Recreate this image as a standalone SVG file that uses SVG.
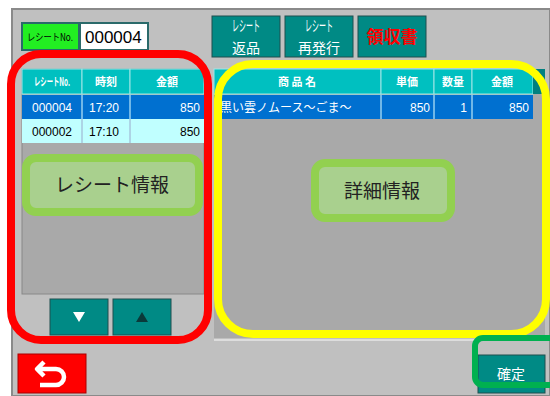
<svg xmlns="http://www.w3.org/2000/svg" width="550" height="396" viewBox="0 0 550 396">
<style>
.hdr{fill:#00c0c0;stroke:#9fe6e6;stroke-width:1}
.ht{font-family:"Noto Sans CJK JP","Liberation Sans",sans-serif;font-size:11px;font-weight:bold;fill:#fff;text-anchor:middle}
.rt{font-family:"Liberation Sans","Noto Sans CJK JP",sans-serif;font-size:12px}
.btn{fill:#008a85;stroke:#1f4f4f;stroke-width:1}
.bt{font-family:"Noto Sans CJK JP",sans-serif;font-size:14px;fill:#fff;text-anchor:middle}
.bs{font-family:"Noto Sans CJK JP",sans-serif;font-size:15px;fill:#fff;text-anchor:middle}
.lbl{fill:#a9d08e;stroke:#92d050;stroke-width:8}
.lt{font-family:"Noto Sans CJK JP",sans-serif;font-size:19px;fill:#222;text-anchor:middle}
</style>
<rect x="0" y="0" width="550" height="396" fill="#fff"/>
<rect x="12" y="9" width="538" height="387" fill="#c0c0c0" stroke="#8a8a8a" stroke-width="2"/>

<g id="receiptNo">
<rect x="22" y="23" width="57" height="27" fill="#22ee22" stroke="#2a6a6a" stroke-width="2"/>
<text x="27" y="41" font-family="Noto Sans CJK JP,sans-serif" font-size="10" fill="#000" textLength="46" lengthAdjust="spacingAndGlyphs">レシートNo.</text>
<rect x="80" y="23" width="68" height="27" fill="#fff" stroke="#2a6a6a" stroke-width="2"/>
<text x="85" y="43" font-family="Liberation Sans,sans-serif" font-size="17" fill="#000">000004</text>
</g>

<g id="topButtons">
<rect class="btn" x="212" y="16" width="68" height="41"/>
<text class="bs" x="246" y="31" textLength="28" lengthAdjust="spacingAndGlyphs">レシート</text><text class="bt" x="246" y="53">返品</text>
<rect class="btn" x="285" y="16" width="68" height="41"/>
<text class="bs" x="319" y="31" textLength="28" lengthAdjust="spacingAndGlyphs">レシート</text><text class="bt" x="319" y="53">再発行</text>
<rect class="btn" x="358" y="16" width="68" height="41"/>
<text x="392" y="43" font-family="Noto Sans CJK JP,sans-serif" font-size="17" font-weight="bold" fill="#ff0000" text-anchor="middle">領収書</text>
</g>

<g id="leftTable">
<rect x="22" y="69" width="182" height="225" fill="#a9a9a9" stroke="#888" stroke-width="1"/>
<rect class="hdr" x="22" y="69" width="60" height="25"/>
<rect class="hdr" x="82" y="69" width="48" height="25"/>
<rect class="hdr" x="130" y="69" width="74" height="25"/>
<text class="ht" x="52" y="86" font-size="11" textLength="36" lengthAdjust="spacingAndGlyphs">レシートNo.</text>
<text class="ht" x="106" y="86">時刻</text>
<text class="ht" x="167" y="86">金額</text>
<rect x="22" y="95" width="182" height="24" fill="#0070d0"/>
<line x1="82" y1="95" x2="82" y2="143" stroke="#e0ffff"/>
<line x1="130" y1="95" x2="130" y2="143" stroke="#e0ffff"/>
<text class="rt" x="32" y="112" fill="#fff">000004</text>
<text class="rt" x="89" y="112" fill="#fff">17:20</text>
<text class="rt" x="200" y="112" fill="#fff" text-anchor="end">850</text>
<rect x="22" y="119" width="182" height="24" fill="#c0ffff"/>
<line x1="82" y1="119" x2="82" y2="143" stroke="#9ac"/>
<line x1="130" y1="119" x2="130" y2="143" stroke="#9ac"/>
<text class="rt" x="32" y="136" fill="#000">000002</text>
<text class="rt" x="89" y="136" fill="#000">17:10</text>
<text class="rt" x="200" y="136" fill="#000" text-anchor="end">850</text>
</g>

<g id="scrollButtons">
<rect class="btn" x="50" y="299" width="58" height="36"/>
<polygon points="73,312 85,312 79,322" fill="#fff"/>
<rect class="btn" x="113" y="299" width="58" height="36"/>
<polygon points="136,322 148,322 142,312" fill="#0a3a3a"/>
</g>

<g id="backButton">
<rect x="18" y="354" width="68" height="39" fill="#ff0000" stroke="#a00" stroke-width="1"/>
<path d="M44,362 L37,369 L44,376 M38,369 H56 A8,8 0 0 1 56,385 H40" fill="none" stroke="#fff" stroke-width="4.5" stroke-linejoin="round"/>
</g>

<g id="rightTable">
<rect x="214" y="69" width="331" height="269" fill="#a9a9a9"/>
<line x1="214" y1="340" x2="545" y2="340" stroke="#ddd" stroke-width="2"/>
<rect class="hdr" x="214" y="69" width="167" height="25"/>
<rect class="hdr" x="381" y="69" width="53" height="25"/>
<rect class="hdr" x="434" y="69" width="38" height="25"/>
<rect class="hdr" x="472" y="69" width="61" height="25"/>
<rect x="533" y="69" width="12" height="25" fill="#008080"/>
<text class="ht" x="297" y="86">商 品 名</text>
<text class="ht" x="407" y="86">単価</text>
<text class="ht" x="453" y="86">数量</text>
<text class="ht" x="502" y="86">金額</text>
<rect x="214" y="95" width="319" height="24" fill="#0070d0"/>
<line x1="381" y1="95" x2="381" y2="119" stroke="#e0ffff"/>
<line x1="434" y1="95" x2="434" y2="119" stroke="#e0ffff"/>
<line x1="472" y1="95" x2="472" y2="119" stroke="#e0ffff"/>
<text x="220" y="112" font-family="Noto Sans CJK JP,sans-serif" font-size="12" fill="#fff">黒い雲ノムース〜ごま〜</text>
<text class="rt" x="430" y="112" fill="#fff" text-anchor="end">850</text>
<text class="rt" x="467" y="112" fill="#fff" text-anchor="end">1</text>
<text class="rt" x="529" y="112" fill="#fff" text-anchor="end">850</text>
</g>

<g id="confirmButton">
<rect class="btn" x="478" y="355" width="67" height="38"/>
<text class="bt" x="511" y="379">確定</text>
</g>

<g id="labelReceipt">
<rect class="lbl" x="26" y="158" width="173" height="54" rx="10"/>
<text class="lt" x="112" y="192">レシート情報</text>
</g>
<g id="labelDetail">
<rect class="lbl" x="315" y="163" width="136" height="55" rx="10"/>
<text class="lt" x="382" y="198">詳細情報</text>
</g>

<g id="highlights" fill="none">
<rect x="11" y="54" width="197" height="286" rx="30" stroke="#ff0000" stroke-width="8"/>
<rect x="218" y="64" width="328" height="270" rx="35" stroke="#ffff00" stroke-width="8"/>
<rect x="475" y="338" width="90" height="47" rx="8" stroke="#00b050" stroke-width="6"/>
</g>
</svg>
